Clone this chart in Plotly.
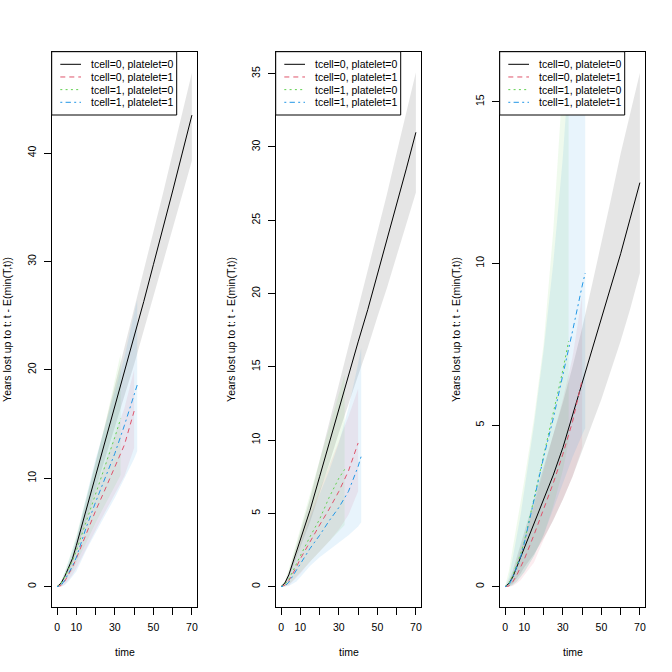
import plotly.graph_objects as go

# ---------------- data ----------------
LABELS = ["tcell=0, platelet=0", "tcell=0, platelet=1",
          "tcell=1, platelet=0", "tcell=1, platelet=1"]

T_BLACK = [0, 2, 4, 6, 8, 10, 15, 20, 25, 30, 35, 40, 45, 50, 55, 60, 65, 70]
T_RED = [0, 2, 4, 6, 8, 10, 15, 20, 25, 30, 35, 40]
T_GREEN = [0, 2, 4, 6, 8, 10, 15, 20, 25, 30, 33]
T_BLUE = [0, 2, 4, 6, 8, 10, 15, 20, 25, 30, 35, 40, 41.6]

# panel 1
P1_BLACK = [0, 0.3, 0.95, 1.7, 2.6, 3.8, 7.0, 10.1, 13.3, 16.6, 19.8, 23.0, 26.3, 29.7, 33.0, 36.5, 40.0, 43.5]
P1_BLACK_LO = [0, 0.2, 0.75, 1.4, 2.2, 3.25, 6.1, 8.8, 11.7, 14.7, 17.6, 20.5, 23.5, 26.6, 29.7, 32.9, 36.15, 39.3]
P1_BLACK_HI = [0, 0.4, 1.15, 2.0, 3.0, 4.35, 7.9, 11.4, 14.9, 18.5, 22.0, 25.5, 29.1, 32.8, 36.3, 40.0, 43.7, 47.4]
P1_RED = [0, 0.1, 0.5, 1.1, 1.8, 2.6, 4.8, 7.0, 9.0, 11.1, 13.1, 16.2]
P1_RED_LO = [0, 0, 0.2, 0.6, 1.1, 1.7, 3.4, 5.2, 6.9, 8.6, 10.2, 12.8]
P1_RED_HI = [0, 0.3, 1.0, 1.8, 2.7, 3.7, 6.4, 9.0, 11.4, 14.0, 16.5, 20.0]
P1_GREEN = [0, 0.3, 0.9, 1.6, 2.4, 3.3, 5.9, 8.5, 11.0, 13.8, 15.5]
P1_GREEN_LO = [0, 0.1, 0.5, 1.0, 1.5, 2.1, 4.0, 5.9, 7.6, 9.3, 10.3]
P1_GREEN_HI = [0, 0.5, 1.4, 2.4, 3.5, 4.7, 8.0, 11.5, 15.0, 19.0, 21.5]
P1_BLUE = [0, 0.1, 0.6, 1.2, 1.9, 2.7, 5.4, 7.8, 10.0, 12.3, 14.9, 17.6, 18.6]
P1_BLUE_LO = [0, 0, 0.15, 0.5, 0.9, 1.4, 3.3, 4.9, 6.6, 8.2, 10.0, 11.8, 12.5]
P1_BLUE_HI = [0, 0.4, 1.3, 2.3, 3.3, 4.5, 8.2, 11.8, 14.8, 18.0, 21.2, 25.2, 26.5]

# panel 2
P2_BLACK = [0, 0.25, 0.8, 1.6, 2.4, 3.2, 5.2, 7.5, 9.8, 12.2, 14.5, 16.7, 18.9, 21.3, 23.6, 26.1, 28.5, 31.0]
P2_BLACK_LO = [0, 0.15, 0.6, 1.3, 2.0, 2.7, 4.4, 6.4, 8.4, 10.5, 12.5, 14.4, 16.3, 18.4, 20.4, 22.6, 24.7, 26.9]
P2_BLACK_HI = [0, 0.35, 1.0, 1.9, 2.8, 3.7, 6.0, 8.6, 11.2, 13.9, 16.5, 19.0, 21.5, 24.2, 26.8, 29.6, 32.3, 35.1]
P2_RED = [0, 0.1, 0.4, 0.85, 1.35, 1.9, 3.1, 4.2, 5.3, 6.5, 7.9, 9.8]
P2_RED_LO = [0, 0, 0.1, 0.35, 0.6, 0.9, 1.7, 2.4, 3.1, 3.9, 4.9, 6.5]
P2_RED_HI = [0, 0.3, 0.9, 1.6, 2.3, 3.1, 4.9, 6.6, 8.2, 9.9, 11.6, 13.5]
P2_GREEN = [0, 0.15, 0.5, 1.0, 1.5, 2.1, 3.4, 4.6, 6.1, 7.4, 8.0]
P2_GREEN_LO = [0, 0, 0.15, 0.4, 0.65, 0.95, 1.7, 2.4, 3.1, 3.8, 4.2]
P2_GREEN_HI = [0, 0.4, 1.2, 2.1, 3.0, 4.0, 6.3, 8.6, 10.9, 13.2, 14.5]
P2_BLUE = [0, 0.05, 0.3, 0.7, 1.1, 1.55, 2.6, 3.5, 4.5, 5.4, 6.5, 8.2, 8.9]
P2_BLUE_LO = [0, 0, 0.05, 0.2, 0.35, 0.6, 1.4, 2.0, 2.5, 3.0, 3.5, 4.1, 4.4]
P2_BLUE_HI = [0, 0.2, 0.8, 1.5, 2.2, 3.0, 4.7, 6.3, 7.9, 9.8, 12.2, 15.2, 16.3]

# panel 3
P3_BLACK = [0, 0.1, 0.3, 0.6, 0.88, 1.2, 1.9, 2.65, 3.45, 4.3, 5.3, 6.3, 7.3, 8.3, 9.3, 10.3, 11.4, 12.5]
P3_BLACK_LO = [0, 0.02, 0.1, 0.25, 0.4, 0.6, 1.0, 1.5, 2.05, 2.7, 3.4, 4.2, 5.0, 5.8, 6.7, 7.6, 8.6, 9.7]
P3_BLACK_HI = [0, 0.2, 0.5, 0.9, 1.3, 1.7, 2.7, 3.7, 4.7, 5.7, 6.8, 8.0, 9.3, 10.6, 12.0, 13.4, 14.7, 15.9]
P3_RED = [0, 0.02, 0.15, 0.35, 0.6, 0.85, 1.6, 2.4, 3.2, 4.1, 5.1, 6.4]
P3_RED_LO = [0, 0, 0.02, 0.1, 0.2, 0.35, 0.75, 1.45, 2.1, 2.7, 3.4, 4.3]
P3_RED_HI = [0, 0.1, 0.4, 0.75, 1.1, 1.5, 2.5, 3.6, 4.7, 5.8, 7.1, 9.0]
P3_GREEN = [0, 0.1, 0.35, 0.65, 1.0, 1.4, 2.7, 4.0, 5.3, 6.7, 7.6]
P3_GREEN_LO = [0, 0, 0.05, 0.15, 0.3, 0.45, 0.95, 1.6, 2.5, 3.6, 4.5]
P3_GREEN_HI = [0, 0.5, 1.2, 1.9, 2.6, 3.3, 5.2, 7.5, 11.0, 15.5, 18.5]
P3_BLUE = [0, 0.05, 0.3, 0.6, 0.9, 1.35, 2.7, 4.0, 5.2, 6.5, 7.9, 9.3, 9.7]
P3_BLUE_LO = [0, 0, 0.05, 0.15, 0.3, 0.45, 0.95, 1.6, 2.4, 3.2, 4.0, 4.7, 4.9]
P3_BLUE_HI = [0, 0.3, 0.9, 1.5, 2.2, 3.0, 5.0, 7.3, 10.0, 13.3, 17.5, 22.0, 23.5]

X_TICKS = [0, 10, 20, 30, 40, 50, 60, 70]
X_TICK_TEXT = ["0", "10", "", "30", "", "50", "", "70"]
Y_TICKS = [[0, 10, 20, 30, 40], [0, 5, 10, 15, 20, 25, 30, 35], [0, 5, 10, 15]]
Y_RANGES = [[-1.85, 49.35], [-1.37, 36.5], [-0.62, 16.55]]
X_RANGE = [-2.8, 72.8]

PANELS = [
    [(T_BLACK, P1_BLACK, P1_BLACK_LO, P1_BLACK_HI), (T_RED, P1_RED, P1_RED_LO, P1_RED_HI),
     (T_GREEN, P1_GREEN, P1_GREEN_LO, P1_GREEN_HI), (T_BLUE, P1_BLUE, P1_BLUE_LO, P1_BLUE_HI)],
    [(T_BLACK, P2_BLACK, P2_BLACK_LO, P2_BLACK_HI), (T_RED, P2_RED, P2_RED_LO, P2_RED_HI),
     (T_GREEN, P2_GREEN, P2_GREEN_LO, P2_GREEN_HI), (T_BLUE, P2_BLUE, P2_BLUE_LO, P2_BLUE_HI)],
    [(T_BLACK, P3_BLACK, P3_BLACK_LO, P3_BLACK_HI), (T_RED, P3_RED, P3_RED_LO, P3_RED_HI),
     (T_GREEN, P3_GREEN, P3_GREEN_LO, P3_GREEN_HI), (T_BLUE, P3_BLUE, P3_BLUE_LO, P3_BLUE_HI)],
]

# ---------------- style ----------------
COLORS = ["#000000", "#DF536B", "#61D04F", "#2297E6"]
FILLS = ["rgba(0,0,0,0.10)", "rgba(223,83,107,0.10)", "rgba(97,208,79,0.10)", "rgba(34,151,230,0.10)"]
DASHES = ["solid", "5px,4px", "2px,3.3px", "2px,3.3px,5.3px,3.3px"]
FONT = "Liberation Sans, Arial, sans-serif"
FS = 10.5
W = 672.0

PANEL_PX = [(51.7, 197.3), (275.7, 421.3), (499.7, 645.3)]
TOP_PX, BOT_PX = 51.7, 606.7


def fx(p):
    return p / W


def fy(p):
    return 1 - p / W


fig = go.Figure()
shapes = []
annotations = []
layout = {}

for k, groups in enumerate(PANELS):
    xa = "x" if k == 0 else f"x{k+1}"
    ya = "y" if k == 0 else f"y{k+1}"
    # confidence bands
    for g, (t, v, lo, hi) in enumerate(groups):
        fig.add_trace(go.Scatter(
            x=list(t) + list(t)[::-1], y=list(hi) + list(lo)[::-1],
            fill="toself", fillcolor=FILLS[g], line=dict(width=0),
            mode="lines", hoverinfo="skip", showlegend=False, xaxis=xa, yaxis=ya))
    # estimate lines
    for g, (t, v, lo, hi) in enumerate(groups):
        fig.add_trace(go.Scatter(
            x=t, y=v, mode="lines", name=LABELS[g],
            line=dict(color=COLORS[g], width=1, dash=DASHES[g]),
            showlegend=False, xaxis=xa, yaxis=ya))

    x0, x1 = PANEL_PX[k]
    axcommon = dict(showline=True, mirror=True, linecolor="black", linewidth=1,
                    ticks="outside", ticklen=7, tickwidth=1, tickcolor="black",
                    showgrid=False, zeroline=False,
                    tickfont=dict(family=FONT, size=FS, color="black"))
    layout["xaxis" if k == 0 else f"xaxis{k+1}"] = dict(
        domain=[fx(x0), fx(x1)], range=X_RANGE, anchor=ya,
        tickmode="array", tickvals=X_TICKS, ticktext=X_TICK_TEXT,
        ticklabelstandoff=4, **axcommon)
    layout["yaxis" if k == 0 else f"yaxis{k+1}"] = dict(
        domain=[fy(BOT_PX), fy(TOP_PX)], range=Y_RANGES[k], anchor=xa,
        tickmode="array", tickvals=Y_TICKS[k], tickangle=-90,
        ticklabelstandoff=4, **axcommon)

    # axis titles
    annotations.append(dict(text="time", x=fx((x0 + x1) / 2), y=fy(651.7), xref="paper", yref="paper",
                            showarrow=False, xanchor="center", yanchor="middle",
                            font=dict(family=FONT, size=FS, color="black")))
    annotations.append(dict(text="Years lost up to t: t - E(min(T,t))", x=fx(x0 - 44), y=fy((TOP_PX + BOT_PX) / 2),
                            xref="paper", yref="paper", textangle=-90, showarrow=False,
                            xanchor="center", yanchor="middle",
                            font=dict(family=FONT, size=FS, color="black")))

    # legend box (top-left inside plot region)
    shapes.append(dict(type="rect", xref="paper", yref="paper", x0=fx(x0), x1=fx(x0 + 125),
                       y0=fy(TOP_PX + 63.3), y1=fy(TOP_PX), fillcolor="white",
                       line=dict(color="black", width=1), layer="above"))
    for g in range(4):
        ry = TOP_PX + 12.6 + 12.67 * g
        shapes.append(dict(type="line", xref="paper", yref="paper", x0=fx(x0 + 8.6), x1=fx(x0 + 29.3),
                           y0=fy(ry), y1=fy(ry), line=dict(color=COLORS[g], width=1, dash=DASHES[g]),
                           layer="above"))
        annotations.append(dict(text=LABELS[g], x=fx(x0 + 37.5), y=fy(ry), xref="paper", yref="paper",
                                showarrow=False, xanchor="left", yanchor="middle",
                                font=dict(family=FONT, size=FS, color="black")))

fig.update_layout(
    width=672, height=672, margin=dict(l=0, r=0, t=0, b=0),
    paper_bgcolor="white", plot_bgcolor="white", showlegend=False,
    shapes=shapes, annotations=annotations, **layout)

fig.write_html("out.html")
